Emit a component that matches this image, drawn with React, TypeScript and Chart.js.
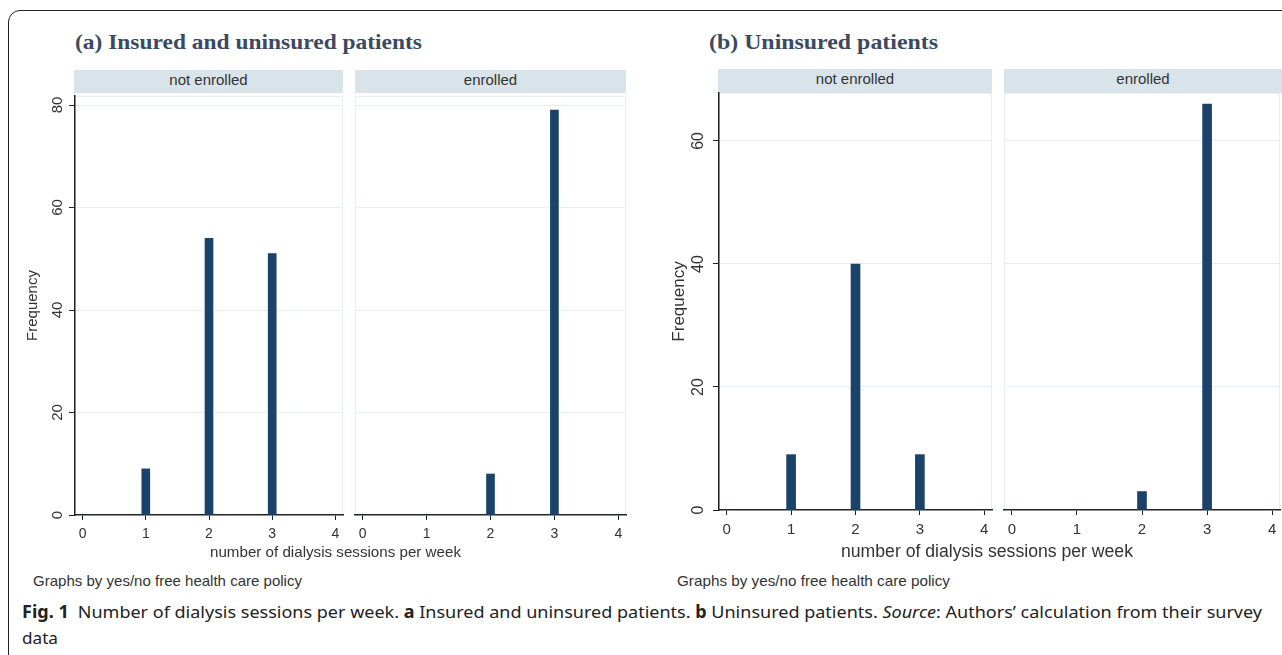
import React, { useEffect, useLayoutEffect, useRef } from 'react';
import { Chart, registerables } from 'chart.js';

Chart.register(...registerables);

// ---------- data ----------
const sessionTicks = [0, 1, 2, 3, 4];
const stripLabels = ['not enrolled', 'enrolled'];
const allNotEnrolled = [0, 9, 54, 51, 0];
const allEnrolled = [0, 0, 8, 79, 0];
const uninsuredNotEnrolled = [0, 9, 40, 9, 0];
const uninsuredEnrolled = [0, 0, 3, 66, 0];
const freqTicksA = [0, 20, 40, 60, 80];
const freqTicksB = [0, 20, 40, 60];
const xTitle = 'number of dialysis sessions per week';
const yTitle = 'Frequency';
const byNote = 'Graphs by yes/no free health care policy';

// ---------- styles ----------
const SANS = '"Liberation Sans", Arial, sans-serif';
const BAR = '#1b426a';
const AXIS = '#222222';
const GRID = '#e6eef2';
const FRAME = '#e9eef1';
const TXT = '#333333';
const STRIP = '#d9e4ea';

const rotatedYLabels = {
  id: 'rotatedYLabels',
  afterDraw(chart: any, _a: any, opts: any) {
    if (!opts || !opts.show) return;
    const s = chart.scales.y;
    const ctx = chart.ctx;
    ctx.save();
    ctx.fillStyle = opts.color;
    ctx.font = opts.font;
    ctx.textAlign = 'center';
    ctx.textBaseline = 'middle';
    s.ticks.forEach((t: any) => {
      const y = s.getPixelForValue(t.value);
      ctx.save();
      ctx.translate(chart.chartArea.left - opts.offset, y);
      ctx.rotate(-Math.PI / 2);
      ctx.fillText(String(t.value), 0, 0);
      ctx.restore();
    });
    ctx.restore();
  },
};

const plotFrame = {
  id: 'plotFrame',
  beforeDraw(chart: any, _a: any, opts: any) {
    const { left, right, top, bottom } = chart.chartArea;
    const ctx = chart.ctx;
    ctx.save();
    ctx.strokeStyle = (opts && opts.color) || FRAME;
    ctx.lineWidth = 1;
    ctx.strokeRect(left + 0.5, top + 0.5, right - left - 1, bottom - top - 1);
    ctx.restore();
  },
};

type PanelProps = {
  left: number;
  top: number;
  width: number;
  height: number;
  values: number[];
  yMax: number;
  yTicks: number[];
  showY: boolean;
  yAxisWidth: number;
  barWidth: number;
  xFont: number;
  yFont: number;
  yOffset: number;
  titleFont: number;
};

function Panel(p: PanelProps) {
  const ref = useRef<HTMLCanvasElement>(null);
  useEffect(() => {
    if (!ref.current) return;
    const chart = new Chart(ref.current, {
      type: 'bar',
      data: {
        datasets: [
          {
            data: sessionTicks.map((x, i) => ({ x, y: p.values[i] })),
            backgroundColor: BAR,
            borderWidth: 0,
            barThickness: p.barWidth,
          } as any,
        ],
      },
      plugins: [rotatedYLabels, plotFrame],
      options: {
        animation: false,
        responsive: false,
        devicePixelRatio: 1,
        layout: { padding: { top: 6, right: 4, left: p.showY ? 0 : 4, bottom: 0 } },
        plugins: {
          legend: { display: false },
          tooltip: { enabled: false },
          rotatedYLabels: {
            show: p.showY,
            color: TXT,
            font: `${p.yFont}px ${SANS}`,
            offset: p.yOffset,
          },
          plotFrame: { color: FRAME },
        } as any,
        scales: {
          x: {
            type: 'linear',
            min: -0.12,
            max: 4.12,
            offset: false,
            afterBuildTicks: (s: any) => {
              s.ticks = sessionTicks.map((v) => ({ value: v }));
            },
            afterFit: (s: any) => {
              s.height = 30;
            },
            ticks: {
              font: { family: SANS, size: p.xFont },
              color: TXT,
              padding: 6,
              maxRotation: 0,
              autoSkip: false,
              includeBounds: false,
            },
            grid: {
              offset: false,
              drawOnChartArea: false,
              drawTicks: true,
              tickLength: 5,
              tickColor: AXIS,
              tickWidth: 1,
            },
            border: { display: true, color: AXIS, width: 1.5 },
          } as any,
          y: {
            type: 'linear',
            min: 0,
            max: p.yMax,
            afterBuildTicks: (s: any) => {
              s.ticks = p.yTicks.map((v) => ({ value: v }));
            },
            afterFit: (s: any) => {
              s.width = p.yAxisWidth;
            },
            ticks: { display: false },
            grid: {
              offset: false,
              color: (c: any) => (c.tick && c.tick.value === 0 ? 'rgba(0,0,0,0)' : GRID),
              drawTicks: p.showY,
              tickLength: 6,
              tickColor: AXIS,
              tickWidth: 1,
            },
            border: { display: p.showY, color: AXIS, width: 1.5 },
            title: {
              display: p.showY,
              text: yTitle,
              color: TXT,
              font: { family: SANS, size: p.titleFont },
              padding: { top: 4, bottom: 0 },
            },
          } as any,
        },
      },
    });
    return () => chart.destroy();
  }, []);
  return (
    <canvas
      ref={ref}
      width={p.width}
      height={p.height}
      style={{ position: 'absolute', left: p.left, top: p.top, width: p.width, height: p.height }}
    />
  );
}

function FitText(props: {
  x: number;
  cy: number;
  w?: number;
  size: number;
  family: string;
  weight?: number | string;
  color: string;
  children: React.ReactNode;
}) {
  const ref = useRef<HTMLSpanElement>(null);
  useLayoutEffect(() => {
    const fit = () => {
      const el = ref.current;
      if (!el || !props.w) return;
      el.style.transform = 'none';
      const nat = el.getBoundingClientRect().width;
      if (nat > 0) el.style.transform = `scaleX(${props.w / nat})`;
    };
    fit();
    if ((document as any).fonts && (document as any).fonts.ready) {
      (document as any).fonts.ready.then(fit);
    }
  }, [props.w]);
  const lh = Math.round(props.size * 1.25);
  return (
    <span
      ref={ref}
      style={{
        position: 'absolute',
        left: props.x,
        top: props.cy - lh / 2,
        fontSize: props.size,
        lineHeight: lh + 'px',
        fontFamily: props.family,
        fontWeight: props.weight as any,
        color: props.color,
        whiteSpace: 'nowrap',
        transformOrigin: 'left center',
      }}
    >
      {props.children}
    </span>
  );
}

function Strip(props: { left: number; right: number; top: number; bottom: number; label: string }) {
  return (
    <div
      style={{
        position: 'absolute',
        left: props.left,
        top: props.top,
        width: props.right - props.left,
        height: props.bottom - props.top,
        background: STRIP,
        color: TXT,
        fontFamily: SANS,
        fontSize: 15,
        lineHeight: '19px',
        textAlign: 'center',
        whiteSpace: 'nowrap',
      }}
    >
      {props.label}
    </div>
  );
}

export default function App() {
  const serif = '"Liberation Serif", "DejaVu Serif", serif';
  const capFont = '"Noto Sans", "Open Sans", sans-serif';
  const titleColor = '#3b4a61';
  return (
    <div
      style={{
        position: 'absolute',
        left: 0,
        top: 0,
        width: 1282,
        height: 655,
        overflow: 'hidden',
        background: '#ffffff',
      }}
    >
      <div
        style={{
          position: 'absolute',
          left: 8,
          top: 10,
          width: 1320,
          height: 700,
          border: '1px solid #222',
          borderTopLeftRadius: 12,
          boxSizing: 'border-box',
        }}
      />

      <FitText x={75} cy={42} w={347} size={22} family={serif} weight={700} color={titleColor}>
        (a) Insured and uninsured patients
      </FitText>
      <FitText x={709} cy={42} w={229} size={22} family={serif} weight={700} color={titleColor}>
        (b) Uninsured patients
      </FitText>

      <Strip left={74} right={343} top={70} bottom={93} label={stripLabels[0]} />
      <Strip left={355} right={626} top={70} bottom={93} label={stripLabels[1]} />
      <Strip left={718} right={992} top={69} bottom={93} label={stripLabels[0]} />
      <Strip left={1004} right={1282} top={69} bottom={93} label={stripLabels[1]} />

      <Panel left={20} top={90} width={327} height={455} values={allNotEnrolled} yMax={81.76}
        yTicks={freqTicksA} showY={true} yAxisWidth={55} barWidth={8} xFont={14} yFont={15}
        yOffset={17} titleFont={15} />
      <Panel left={351} top={90} width={279} height={455} values={allEnrolled} yMax={81.76}
        yTicks={freqTicksA} showY={false} yAxisWidth={0} barWidth={8} xFont={14} yFont={15}
        yOffset={17} titleFont={15} />
      <Panel left={665} top={87} width={331} height={453} values={uninsuredNotEnrolled} yMax={67.8}
        yTicks={freqTicksB} showY={true} yAxisWidth={54} barWidth={9} xFont={15} yFont={16}
        yOffset={20} titleFont={17} />
      <Panel left={1000} top={87} width={284} height={453} values={uninsuredEnrolled} yMax={67.8}
        yTicks={freqTicksB} showY={false} yAxisWidth={0} barWidth={9} xFont={15} yFont={16}
        yOffset={20} titleFont={17} />

      <FitText x={210} cy={551} w={251} size={15} family={SANS} color={TXT}>{xTitle}</FitText>
      <FitText x={841} cy={551} w={292} size={17.5} family={SANS} color={TXT}>{xTitle}</FitText>
      <FitText x={33} cy={580} w={269} size={15} family={SANS} color={TXT}>{byNote}</FitText>
      <FitText x={677} cy={580} w={273} size={15} family={SANS} color={TXT}>{byNote}</FitText>

      <FitText x={22} cy={611} w={1240} size={17} family={capFont} color="#222">
        <b>Fig. 1</b>{'\u2002'}Number of dialysis sessions per week. <b>a</b> Insured and uninsured patients.{' '}
        <b>b</b> Uninsured patients. <i>Source</i>: Authors{'\u2019'} calculation from their survey
      </FitText>
      <FitText x={22} cy={637} w={36} size={17} family={capFont} color="#222">data</FitText>
    </div>
  );
}
